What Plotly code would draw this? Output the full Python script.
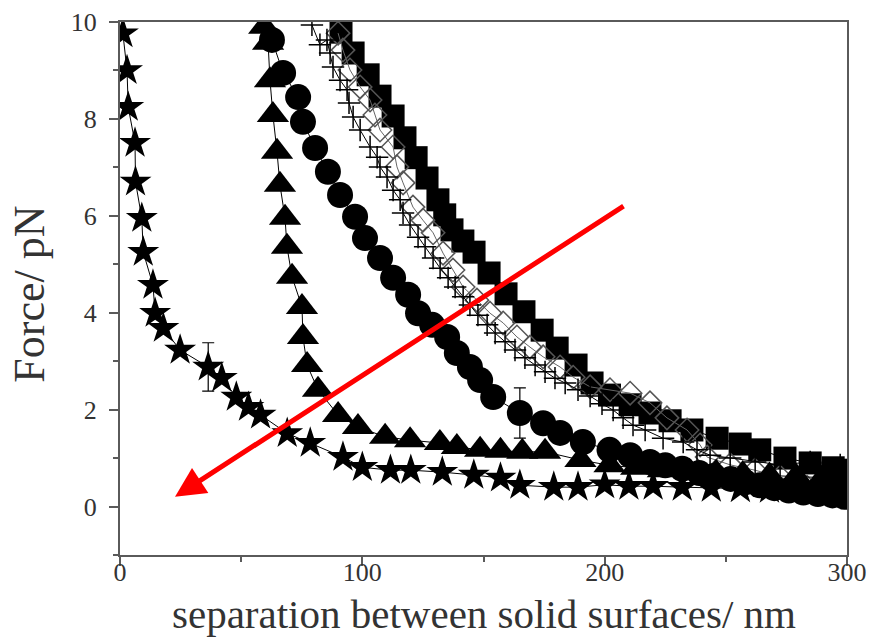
import plotly.graph_objects as go

# Force-distance curves between two solid surfaces
star_x = [1.2, 2.9, 3.4, 6.2, 6.4, 9.0, 9.6, 13.6, 14.5, 17.9, 24.8, 36.4, 42, 48, 53, 58,
          69, 78.5, 92, 100, 111.6, 120, 133, 146, 157, 165, 179, 189, 200, 210, 220, 232,
          244, 256, 268, 280, 292]
star_y = [9.76, 9.0, 8.24, 7.5, 6.7, 5.95, 5.25, 4.57, 3.99, 3.68, 3.23, 2.88, 2.65, 2.26, 2.05, 1.89,
          1.51, 1.31, 1.02, 0.81, 0.75, 0.75, 0.71, 0.65, 0.59, 0.44, 0.40, 0.40, 0.45, 0.42, 0.42,
          0.40, 0.38, 0.37, 0.36, 0.35, 0.34]
star_err = [None] * 11 + [0.5] + [None] * 25

tri_x = [59.5, 61.1, 61.9, 63.1, 64.8, 66.0, 68.1, 68.9, 71.0, 75.1, 75.5, 77.2, 81.7,
         90, 98.2, 109.4, 119.7, 132, 139, 148.6, 157, 166, 175.4, 190, 202, 213, 224,
         235, 246, 257, 268, 279, 290, 299]
tri_y = [9.9, 9.57, 8.80, 8.08, 7.32, 6.64, 5.96, 5.36, 4.74, 4.12, 3.50, 2.92, 2.41,
         1.89, 1.64, 1.44, 1.37, 1.31, 1.23, 1.17, 1.15, 1.13, 1.13, 0.96, 0.85, 0.80, 0.75,
         0.72, 0.70, 0.67, 0.64, 0.62, 0.60, 0.58]

circ_x = [62.7, 67.3, 73.5, 75.5, 80.5, 85.8, 90.8, 97.0, 101.1, 107.3, 112.7, 118.9, 123.0,
          128.8, 135, 139, 144.4, 148.6, 154, 165, 174.6, 181.6, 191, 202, 210.5, 218.7, 225,
          232, 239, 245, 252, 258, 264, 270, 276, 282, 288, 294, 299]
circ_y = [9.63, 8.95, 8.45, 7.94, 7.40, 6.91, 6.43, 5.98, 5.54, 5.13, 4.72, 4.37, 3.99,
          3.75, 3.50, 3.17, 2.88, 2.61, 2.26, 1.93, 1.72, 1.52, 1.33, 1.17, 1.06, 0.92, 0.85,
          0.78, 0.69, 0.63, 0.57, 0.50, 0.44, 0.38, 0.33, 0.29, 0.26, 0.23, 0.20]
circ_err = [None] * 19 + [0.52] + [None] * 19

plus_x = [79.2, 82.5, 85.4, 86.7, 87.9, 90.8, 93.7, 94.5, 96.2, 99.1, 103.2, 106.1, 107.3, 110.2,
          112.7, 115.6, 116.8, 119.7, 123, 125.9, 129.2, 132.1, 135.4, 138.3, 141.6, 144.4,
          147.7, 151.5, 154.8, 158.9, 163, 167.1, 171.3, 175.4, 179.5, 183.7, 189, 194,
          198.9, 203.5, 207.6, 211.7, 216.7, 224.1, 232.4, 238.1, 243.5, 251.8, 262.1,
          272.4, 284.8, 297.2]
plus_y = [9.94, 9.53, 9.63, 9.36, 9.07, 8.80, 8.60, 8.33, 8.04, 7.77, 7.42, 7.21, 7.01, 6.80,
          6.53, 6.33, 6.06, 5.81, 5.56, 5.36, 5.13, 4.92, 4.72, 4.53, 4.33, 4.16,
          3.95, 3.75, 3.58, 3.40, 3.23, 3.07, 2.92, 2.78, 2.65, 2.55, 2.41, 2.28,
          2.12, 1.99, 1.83, 1.68, 1.58, 1.41, 1.33, 1.17, 1.06, 1.00, 0.92,
          0.86, 0.92, 0.86]

dia_x = [90, 92, 94.9, 99.1, 103.2, 105.2, 107.3, 112.7, 114.3, 116.8, 120.9, 125, 129.2,
         133.3, 137.4, 141.6, 147.3, 152.7, 158.1, 163.8, 169.2, 174.6, 181.6, 187, 194,
         202.2, 210.5, 218.7, 225.7, 234, 239.4, 242.3, 251.8, 262, 272.4, 283.5, 294.3]
dia_y = [9.77, 9.42, 9.01, 8.66, 8.39, 8.08, 7.77, 7.42, 7.01, 6.68, 6.18, 5.91, 5.65,
         5.23, 4.88, 4.53, 4.26, 3.99, 3.79, 3.50, 3.29, 3.09, 2.88, 2.67, 2.47,
         2.41, 2.34, 2.14, 1.83, 1.58, 1.27, 1.02, 0.86, 0.75, 0.61, 0.40, 0.30]

sq_x = [91.2, 96.2, 102.4, 107.3, 112.7, 117.6, 122.2, 126.7, 131.2, 134, 137, 141.5, 146.1,
        152.3, 159.3, 166.7, 174.2, 180.4, 188.2, 194.8, 202, 210.5, 218.7, 227, 236, 246.4,
        255.9, 264, 274.4, 284.8, 294.3, 300]
sq_y = [9.79, 9.36, 8.91, 8.47, 8.06, 7.61, 7.20, 6.78, 6.33, 6.02, 5.71, 5.48, 5.25,
        4.82, 4.39, 4.02, 3.64, 3.27, 2.92, 2.55, 2.30, 2.10, 1.93, 1.77, 1.58, 1.41,
        1.29, 1.17, 1.00, 0.90, 0.80, 0.75]

x_tick_vals = [0, 100, 200, 300]
x_tick_text = ["0", "100", "200", "300"]
y_tick_vals = [0, 2, 4, 6, 8, 10]
y_tick_text = ["0", "2", "4", "6", "8", "10"]

x_title = "separation between solid surfaces/ nm"
y_title = "Force/ pN"

arrow_tail = (208.4, 6.22)
arrow_head = (22.7, 0.20)

FONT = "Liberation Serif"
AXIS_GRAY = "#5a5a5a"
TEXT_GRAY = "#333333"

fig = go.Figure()

line_style = dict(color="black", width=1)

fig.add_trace(go.Scatter(
    x=sq_x, y=sq_y, mode="lines+markers", line=line_style,
    marker=dict(symbol="square", size=23, color="black"), showlegend=False))

fig.add_trace(go.Scatter(
    x=dia_x, y=dia_y, mode="lines+markers", line=dict(color="#666666", width=1),
    marker=dict(symbol="diamond-open", size=18, color="#555555", line=dict(width=1.5)),
    showlegend=False))

fig.add_trace(go.Scatter(
    x=plus_x, y=plus_y, mode="lines+markers", line=line_style,
    marker=dict(symbol="cross-thin", size=16, color="black",
                line=dict(color="black", width=1.5)),
    showlegend=False))

fig.add_trace(go.Scatter(
    x=circ_x, y=circ_y, mode="lines+markers", line=line_style,
    marker=dict(symbol="circle", size=26, color="black"),
    error_y=dict(type="data", array=circ_err, color="black", thickness=1.2, width=6),
    showlegend=False))

fig.add_trace(go.Scatter(
    x=tri_x, y=tri_y, mode="lines+markers", line=line_style,
    marker=dict(symbol="triangle-up", size=28, color="black"), showlegend=False))

fig.add_trace(go.Scatter(
    x=star_x, y=star_y, mode="lines+markers", line=line_style,
    marker=dict(symbol="star", size=24, color="black"),
    error_y=dict(type="data", array=star_err, color="black", thickness=1.2, width=6),
    showlegend=False))

fig.add_annotation(
    x=arrow_head[0], y=arrow_head[1], ax=arrow_tail[0], ay=arrow_tail[1],
    xref="x", yref="y", axref="x", ayref="y", text="",
    showarrow=True, arrowhead=2, arrowsize=1.2, arrowwidth=5, arrowcolor="#ff0000")

# Axis titles placed relative to the plotting area
fig.add_annotation(
    text=x_title, xref="paper", yref="paper", x=0.5, y=-0.0657,
    xanchor="center", yanchor="top", showarrow=False, borderpad=0,
    font=dict(family=FONT, size=41, color=TEXT_GRAY))
fig.add_annotation(
    text=y_title, xref="paper", yref="paper", x=-0.124, y=0.49, textangle=-90,
    xanchor="center", yanchor="middle", showarrow=False,
    font=dict(family=FONT, size=44, color=TEXT_GRAY))

axis_common = dict(
    showline=True, linecolor=AXIS_GRAY, linewidth=2, mirror=True,
    ticks="outside", ticklen=9, tickwidth=1.5, tickcolor=AXIS_GRAY,
    showgrid=False, zeroline=False, automargin=False,
    tickfont=dict(family=FONT, size=26, color=TEXT_GRAY),
    minor=dict(ticks="outside", ticklen=5, tickwidth=1.5, tickcolor=AXIS_GRAY, showgrid=False),
)

fig.update_xaxes(
    range=[0, 300], tickmode="array", tickvals=x_tick_vals, ticktext=x_tick_text,
    minor_dtick=50, minor_tick0=0, ticklabelstandoff=-16, **axis_common)

fig.update_yaxes(
    range=[-1, 10], tickmode="array", tickvals=y_tick_vals, ticktext=y_tick_text,
    minor_dtick=1, minor_tick0=0, ticklabelstandoff=7, **axis_common)

fig.update_layout(
    width=880, height=637,
    margin=dict(l=120, r=33, t=22, b=82),
    paper_bgcolor="white", plot_bgcolor="white",
    font=dict(family=FONT, color=TEXT_GRAY),
)

fig.write_html("out.html")
